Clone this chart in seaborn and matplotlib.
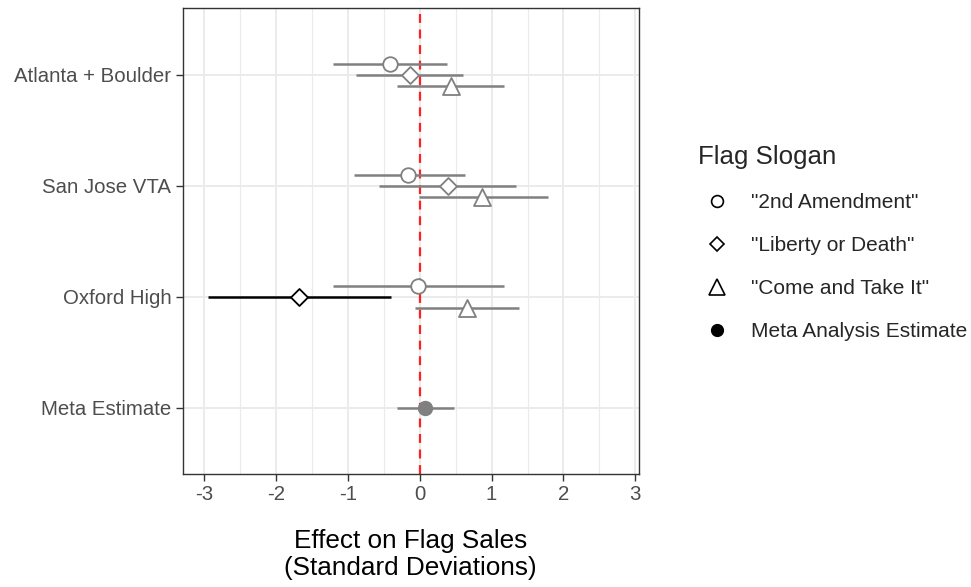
import pandas as pd
import matplotlib.pyplot as plt
import seaborn as sns
from matplotlib.lines import Line2D

sites = ["Atlanta + Boulder", "San Jose VTA", "Oxford High", "Meta Estimate"]
slogans = ['"2nd Amendment"', '"Liberty or Death"', '"Come and Take It"', "Meta Analysis Estimate"]

row_site = ["Atlanta + Boulder"] * 3 + ["San Jose VTA"] * 3 + ["Oxford High"] * 3 + ["Meta Estimate"]
row_slogan = slogans[:3] * 3 + [slogans[3]]
estimate = [-0.42, -0.14, 0.43, -0.16, 0.39, 0.87, -0.02, -1.68, 0.66, 0.07]
ci_low = [-1.21, -0.88, -0.32, -0.92, -0.56, -0.01, -1.20, -2.95, -0.06, -0.32]
ci_high = [0.38, 0.60, 1.17, 0.63, 1.34, 1.79, 1.17, -0.40, 1.38, 0.48]
significant = [False, False, False, False, False, False, False, True, False, False]

df = pd.DataFrame({"site": row_site, "slogan": row_slogan, "est": estimate,
                   "lo": ci_low, "hi": ci_high, "sig": significant})

site_pos = {s: len(sites) - i for i, s in enumerate(sites)}
dodge = {slogans[0]: 0.1, slogans[1]: 0.0, slogans[2]: -0.1, slogans[3]: 0.0}
markers = {slogans[0]: "o", slogans[1]: "D", slogans[2]: "^", slogans[3]: "o"}
sizes = {slogans[0]: 110, slogans[1]: 75, slogans[2]: 150, slogans[3]: 95}
df["y"] = df["site"].map(site_pos) + df["slogan"].map(dodge)
df["col"] = ["black" if s else "#808080" for s in df["sig"]]

sns.set_theme(style="whitegrid")
plt.rcParams["font.family"] = ["Liberation Sans", "DejaVu Sans"]
plt.rcParams["axes.unicode_minus"] = False

fig = plt.figure(figsize=(9.71, 5.87), dpi=100)
ax = fig.add_axes([0.188, 0.192, 0.470, 0.794])

ax.axvline(0, color="#ff2020", linestyle=(0, (4, 3)), linewidth=1.6, zorder=2)
ax.hlines(df["y"], df["lo"], df["hi"], colors=df["col"], linewidth=1.8, zorder=3)

for (slg, col), sub in df.groupby(["slogan", "col"]):
    face = col if slg == slogans[3] else "white"
    sns.scatterplot(data=sub, x="est", y="y", ax=ax, marker=markers[slg],
                    s=sizes[slg], color=face, edgecolor=col, linewidth=1.3,
                    zorder=4, legend=False)

ax.set_xlim(-3.3, 3.05)
ax.set_ylim(0.4, 4.6)
ax.set_xticks([-3, -2, -1, 0, 1, 2, 3])
ax.set_xticks([-2.5, -1.5, -0.5, 0.5, 1.5, 2.5], minor=True)
ax.set_yticks([site_pos[s] for s in sites])
ax.set_yticklabels(sites)
ax.grid(True, which="major", color="#ebebeb", linewidth=1.4)
ax.grid(True, which="minor", axis="x", color="#ebebeb", linewidth=0.8)
ax.set_axisbelow(True)
for sp in ax.spines.values():
    sp.set_color("#333333")
    sp.set_linewidth(1.0)
ax.tick_params(axis="both", which="major", length=5, width=1, color="#333333",
               labelsize=14.7, labelcolor="#4d4d4d", left=True, bottom=True, pad=3)
ax.tick_params(axis="both", which="minor", length=0)
ax.set_xlabel("Effect on Flag Sales\n(Standard Deviations)", fontsize=18.8,
              color="black", labelpad=18, linespacing=1.15)
ax.set_ylabel("")

handles = [
    Line2D([], [], marker="o", linestyle="", markersize=8.5, markerfacecolor="white",
           markeredgecolor="black", markeredgewidth=1.2),
    Line2D([], [], marker="D", linestyle="", markersize=7.5, markerfacecolor="white",
           markeredgecolor="black", markeredgewidth=1.2),
    Line2D([], [], marker="^", linestyle="", markersize=11, markerfacecolor="white",
           markeredgecolor="black", markeredgewidth=1.2),
    Line2D([], [], marker="o", linestyle="", markersize=8.5, markerfacecolor="black",
           markeredgecolor="black"),
]
leg = fig.legend(handles, slogans, title="Flag Slogan", loc="upper left",
                 bbox_to_anchor=(0.719, 0.753), frameon=False, fontsize=15,
                 title_fontsize=18.6, labelspacing=1.15, handletextpad=0.72,
                 handlelength=1.83, borderaxespad=0, borderpad=0)
leg._legend_box.align = "left"

fig.savefig("out.png", dpi=100)
